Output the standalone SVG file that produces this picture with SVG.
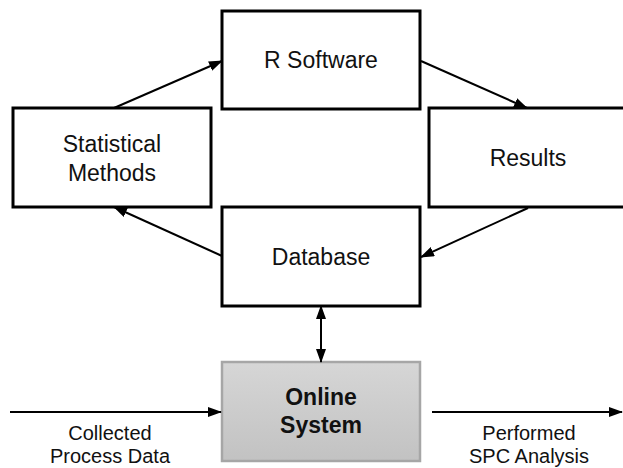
<svg xmlns="http://www.w3.org/2000/svg" width="623" height="468" viewBox="0 0 623 468">
<defs>
<linearGradient id="grey" x1="0" y1="0" x2="0" y2="1">
<stop offset="0" stop-color="#d6d6d6"/>
<stop offset="1" stop-color="#c2c2c2"/>
</linearGradient>
<marker id="ah" viewBox="0 0 14 10" refX="13" refY="5" markerWidth="14" markerHeight="10" markerUnits="userSpaceOnUse" orient="auto-start-reverse">
<path d="M0,0 L14,5 L0,10 Z" fill="#000"/>
</marker>
<style>
.box{fill:#fff;stroke:#000;stroke-width:3}
.sys{fill:url(#grey);stroke:#a6a6a6;stroke-width:2.5}
.t{font-family:"Liberation Sans",Arial,sans-serif;font-size:23px;fill:#111;text-anchor:middle}
.b{font-weight:bold}
.lbl{font-family:"Liberation Sans",Arial,sans-serif;font-size:20px;fill:#111;text-anchor:middle}
.c{stroke:#000;stroke-width:2;fill:none;marker-end:url(#ah)}
</style>
</defs>
<g id="r-software">
<rect class="box" x="222" y="11" width="198" height="98"/>
<text class="t" x="321" y="68">R Software</text>
</g>
<g id="statistical-methods">
<rect class="box" x="13" y="108" width="198" height="99"/>
<text class="t" x="112" y="152">Statistical</text>
<text class="t" x="112" y="180.5">Methods</text>
</g>
<g id="results">
<rect class="box" x="429" y="108" width="198" height="99"/>
<text class="t" x="528" y="166">Results</text>
</g>
<g id="database">
<rect class="box" x="222" y="207" width="198" height="99"/>
<text class="t" x="321" y="265">Database</text>
</g>
<g id="online-system">
<rect class="sys" x="222" y="362" width="198" height="99"/>
<text class="t b" x="321" y="405">Online</text>
<text class="t b" x="321" y="433">System</text>
</g>
<g id="connectors">
<line class="c" x1="114" y1="108" x2="222" y2="61"/>
<line class="c" x1="421" y1="61" x2="527" y2="108"/>
<line class="c" x1="528" y1="208" x2="421" y2="257"/>
<line class="c" x1="222" y1="256" x2="114" y2="207"/>
<line class="c" x1="321" y1="306" x2="321" y2="362" style="marker-start:url(#ah)"/>
<line class="c" x1="10" y1="412" x2="221" y2="412"/>
<line class="c" x1="432" y1="412" x2="622" y2="412"/>
</g>
<g id="labels">
<text class="lbl" x="110" y="440">Collected</text>
<text class="lbl" x="110" y="463">Process Data</text>
<text class="lbl" x="529" y="440">Performed</text>
<text class="lbl" x="529" y="463">SPC Analysis</text>
</g>
</svg>
